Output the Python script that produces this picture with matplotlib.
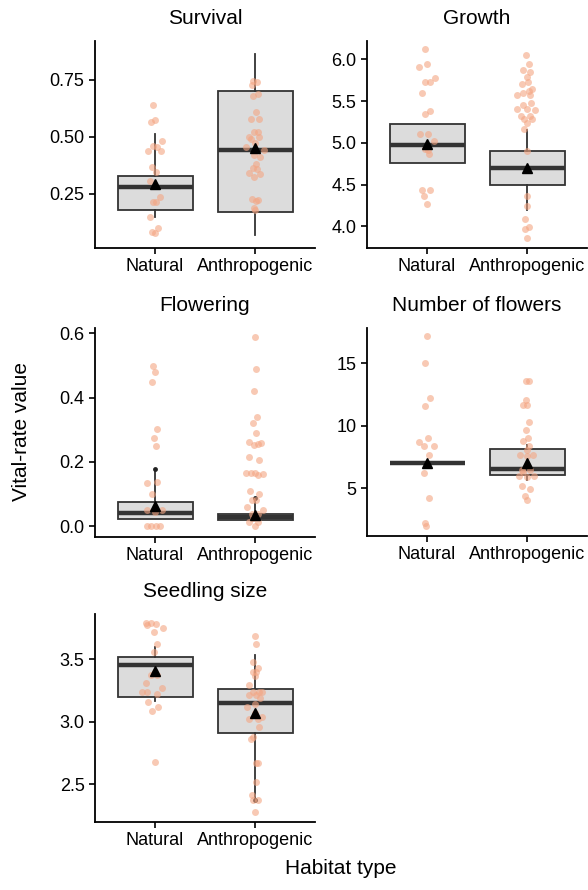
import matplotlib
matplotlib.use("Agg")
import matplotlib.pyplot as plt

plt.rcParams['font.family'] = ['Liberation Sans', 'DejaVu Sans']

habitats = ["Natural", "Anthropogenic"]
titles = ["Survival", "Growth", "Flowering", "Number of flowers", "Seedling size"]

# box statistics per panel: [natural, anthropogenic] -> (whislo, q1, med, q3, whishi, mean)
box_stats = {
    "Survival": [(0.149, 0.180, 0.282, 0.329, 0.513, 0.294),
                 (0.070, 0.170, 0.443, 0.703, 0.863, 0.453)],
    "Growth": [(4.76, 4.76, 4.97, 5.22, 5.22, 4.99),
               (4.19, 4.49, 4.70, 4.90, 5.15, 4.70)],
    "Flowering": [(0.022, 0.022, 0.042, 0.076, 0.177, 0.062),
                  (0.018, 0.018, 0.028, 0.038, 0.086, 0.035)],
    "Number of flowers": [(7.0, 7.0, 7.0, 7.0, 7.0, 7.05),
                          (5.7, 6.03, 6.56, 8.14, 8.5, 7.0)],
    "Seedling size": [(3.165, 3.20, 3.454, 3.515, 3.60, 3.405),
                      (2.37, 2.907, 3.147, 3.26, 3.53, 3.072)],
}
# dark end points drawn on some whiskers
whisker_dots = {
    "Flowering": [[0.177], [0.086]],
    "Seedling size": [[], [2.37]],
}

# raw observations (values) and their horizontal jitter
surv_nat = [0.64, 0.575, 0.565, 0.484, 0.462, 0.458, 0.44, 0.44, 0.37, 0.345, 0.307,
            0.238, 0.216, 0.213, 0.148, 0.102, 0.082, 0.078]
surv_nat_j = [-0.017, 0, -0.043, 0.073, -0.02, 0.023, -0.067, 0.057, -0.027, 0.007, -0.05,
              0.047, -0.02, 0.013, -0.053, 0.03, -0.027, -0.003]
surv_ant = [0.746, 0.74, 0.73, 0.688, 0.68, 0.611, 0.579, 0.578, 0.523, 0.522, 0.50, 0.498,
            0.49, 0.472, 0.455, 0.443, 0.421, 0.41, 0.38, 0.363, 0.36, 0.343, 0.338, 0.323,
            0.227, 0.225, 0.22, 0.187, 0.18]
surv_ant_j = [-0.017, 0.02, -0.033, 0.027, -0.017, 0.01, -0.04, 0.037, -0.013, 0.027, -0.057,
              0.043, -0.04, 0, -0.09, 0.093, -0.007, 0.053, 0.01, -0.023, 0.02, -0.057, 0.053,
              -0.013, -0.033, 0.027, 0.01, -0.013, 0]

grow_nat = [6.12, 5.94, 5.91, 5.78, 5.73, 5.73, 5.60, 5.38, 5.34, 5.10, 5.10, 5.02, 4.93,
            4.91, 4.87, 4.44, 4.44, 4.36, 4.27]
grow_nat_j = [-0.023, 0.003, -0.083, 0.083, -0.017, 0.033, -0.05, 0.033, -0.023, -0.073, 0.01,
              0.067, -0.023, 0.01, 0.017, -0.05, 0.033, -0.033, 0]
grow_ant = [6.05, 5.95, 5.87, 5.85, 5.79, 5.71, 5.73, 5.64, 5.62, 5.60, 5.57, 5.57, 5.48,
            5.45, 5.41, 5.41, 5.39, 5.32, 5.32, 5.28, 5.28, 5.24, 5.16, 4.90, 4.36, 4.24,
            4.09, 3.97, 3.99, 3.86]
grow_ant_j = [-0.007, 0.017, -0.04, 0.033, 0, -0.05, 0.01, 0.053, 0.017, -0.04, -0.1, 0.027,
              0.043, -0.04, -0.097, 0, 0.083, -0.063, 0.027, -0.033, 0.05, 0, -0.03, 0, 0, 0,
              -0.017, -0.023, 0.017, 0]

flow_nat = [0.50, 0.479, 0.448, 0.302, 0.275, 0.25, 0.135, 0.136, 0.10, 0.05, 0.05, 0.045,
            0.0, 0.0, 0.0, 0.0]
flow_nat_j = [-0.017, -0.003, -0.033, 0.023, -0.01, 0.007, -0.077, 0.023, -0.027, -0.077,
              0.067, 0, -0.077, -0.043, 0.007, 0.05]
flow_ant = [0.589, 0.489, 0.422, 0.34, 0.322, 0.291, 0.263, 0.258, 0.255, 0.252, 0.216,
            0.206, 0.164, 0.164, 0.166, 0.162, 0.159, 0.110, 0.10, 0.08, 0.08, 0.059, 0.05,
            0.038, 0.038, 0.024, 0.014, 0.014, 0.0]
flow_ant_j = [0, 0.01, -0.013, 0.02, -0.017, 0.01, -0.057, 0.06, 0.027, -0.007, -0.057, 0.043,
              -0.09, -0.04, 0, 0.077, 0.033, -0.047, 0.043, -0.033, 0.01, -0.08, 0.077, -0.033,
              0.033, -0.023, -0.057, 0.033, 0]

nflw_nat = [17.15, 15.0, 12.2, 11.6, 9.0, 8.7, 8.35, 8.35, 7.7, 6.2, 4.2, 2.2, 1.95]
nflw_nat_j = [0.003, -0.017, 0.027, -0.017, 0.01, -0.083, -0.03, 0.067, 0.02, -0.033, 0.017,
              -0.023, -0.007]
nflw_ant = [13.6, 13.6, 12.05, 11.65, 11.7, 10.3, 9.65, 9.05, 8.75, 8.4, 8.1, 7.7, 7.7, 7.55,
            6.5, 6.5, 6.3, 6.0, 6.0, 5.9, 5.15, 4.95, 4.4, 4.05]
nflw_ant_j = [-0.013, 0.017, -0.013, -0.04, 0, 0.017, -0.007, 0.01, -0.04, 0.017, 0, -0.073,
              0.06, 0, -0.047, 0.027, -0.04, -0.08, 0.07, 0, -0.05, 0.027, -0.017, 0]

seed_nat = [3.787, 3.787, 3.78, 3.77, 3.75, 3.72, 3.62, 3.56, 3.40, 3.37, 3.37, 3.31, 3.27,
            3.24, 3.24, 3.22, 3.16, 3.12, 3.085, 2.68]
seed_nat_j = [-0.093, -0.043, 0.007, -0.077, 0.08, -0.01, 0.017, -0.01, -0.003, -0.037, 0.017,
              -0.087, 0.073, -0.127, -0.077, 0.017, -0.067, 0.03, -0.033, -0.003]
seed_ant = [3.685, 3.62, 3.476, 3.43, 3.40, 3.40, 3.365, 3.29, 3.24, 3.24, 3.24, 3.21, 3.21,
            3.19, 3.14, 3.12, 3.07, 3.04, 3.02, 3.02, 2.96, 2.88, 2.86, 2.67, 2.67, 2.515,
            2.413, 2.373, 2.373, 2.275]
seed_ant_j = [0, 0.01, -0.017, 0.033, -0.017, 0.01, 0.003, -0.057, -0.017, 0.043, 0.07, -0.057,
              0.01, 0.053, 0, -0.08, 0.003, 0.07, -0.057, 0.027, 0.043, -0.017, -0.04, 0.01,
              0.027, 0.01, -0.033, -0.017, 0.027, 0]

points = {
    "Survival": [(surv_nat, surv_nat_j), (surv_ant, surv_ant_j)],
    "Growth": [(grow_nat, grow_nat_j), (grow_ant, grow_ant_j)],
    "Flowering": [(flow_nat, flow_nat_j), (flow_ant, flow_ant_j)],
    "Number of flowers": [(nflw_nat, nflw_nat_j), (nflw_ant, nflw_ant_j)],
    "Seedling size": [(seed_nat, seed_nat_j), (seed_ant, seed_ant_j)],
}

y_limits = {
    "Survival": (0.013, 0.921),
    "Growth": (3.74, 6.22),
    "Flowering": (-0.034, 0.617),
    "Number of flowers": (1.18, 17.83),
    "Seedling size": (2.197, 3.86),
}
y_ticks = {
    "Survival": [0.25, 0.50, 0.75],
    "Growth": [4.0, 4.5, 5.0, 5.5, 6.0],
    "Flowering": [0.0, 0.2, 0.4, 0.6],
    "Number of flowers": [5, 10, 15],
    "Seedling size": [2.5, 3.0, 3.5],
}
y_fmt = {
    "Survival": "{:.2f}", "Growth": "{:.1f}", "Flowering": "{:.1f}",
    "Number of flowers": "{:.0f}", "Seedling size": "{:.1f}",
}

W, H = 588, 890
# panel rectangles in pixels: left, top, width, height
panel_px = {
    "Survival": (95, 41, 220, 207),
    "Growth": (367, 41, 220, 207),
    "Flowering": (95, 328, 220, 209),
    "Number of flowers": (367, 328, 220, 208),
    "Seedling size": (95, 614, 220, 208),
}

fig = plt.figure(figsize=(W / 100, H / 100), dpi=100)
edge = "#333333"

for name in titles:
    l, t, w, h = panel_px[name]
    ax = fig.add_axes([l / W, 1 - (t + h) / H, w / W, h / H])

    stats = []
    for i, (lo, q1, med, q3, hi, mn) in enumerate(box_stats[name]):
        fl = whisker_dots.get(name, [[], []])[i]
        stats.append(dict(whislo=lo, q1=q1, med=med, q3=q3, whishi=hi, mean=mn, fliers=fl))

    ax.bxp(stats, positions=[1, 2], widths=0.75, patch_artist=True,
           showcaps=False, showmeans=False, showfliers=True,
           boxprops=dict(facecolor="#dcdcdc", edgecolor=edge, linewidth=1.3),
           medianprops=dict(color=edge, linewidth=3.2, solid_capstyle="butt"),
           whiskerprops=dict(color=edge, linewidth=1.3),
           flierprops=dict(marker="o", markersize=3.5, markerfacecolor="#222222",
                           markeredgecolor="none"),
           zorder=2)

    for i, (vals, jit) in enumerate(points[name]):
        xs = [i + 1 + j for j in jit]
        ax.plot(xs, vals, "o", color="#f4a582", alpha=0.6, markersize=5,
                markeredgewidth=0, zorder=3)

    means = [s[5] for s in box_stats[name]]
    ax.plot([1, 2], means, "^", color="black", markersize=7, linestyle="none", zorder=4)

    ax.set_xlim(0.4, 2.6)
    ax.set_ylim(*y_limits[name])
    ax.set_xticks([1, 2])
    ax.set_xticklabels(habitats)
    ax.set_yticks(y_ticks[name])
    ax.set_yticklabels([y_fmt[name].format(v) for v in y_ticks[name]])
    ax.set_title(name, fontsize=15, pad=12)
    for s in ["top", "right"]:
        ax.spines[s].set_visible(False)
    for s in ["left", "bottom"]:
        ax.spines[s].set_linewidth(1.3)
    ax.tick_params(labelsize=13, length=4.5, width=1.2, colors="black", pad=3)
    ax.set_facecolor("none")

fig.text(341 / W, 1 - 868 / H, "Habitat type", ha="center", va="center", fontsize=15)
fig.text(22 / W, 1 - 432 / H, "Vital-rate value", ha="center", va="center",
         rotation=90, fontsize=15)

fig.savefig("out.png", dpi=100)
